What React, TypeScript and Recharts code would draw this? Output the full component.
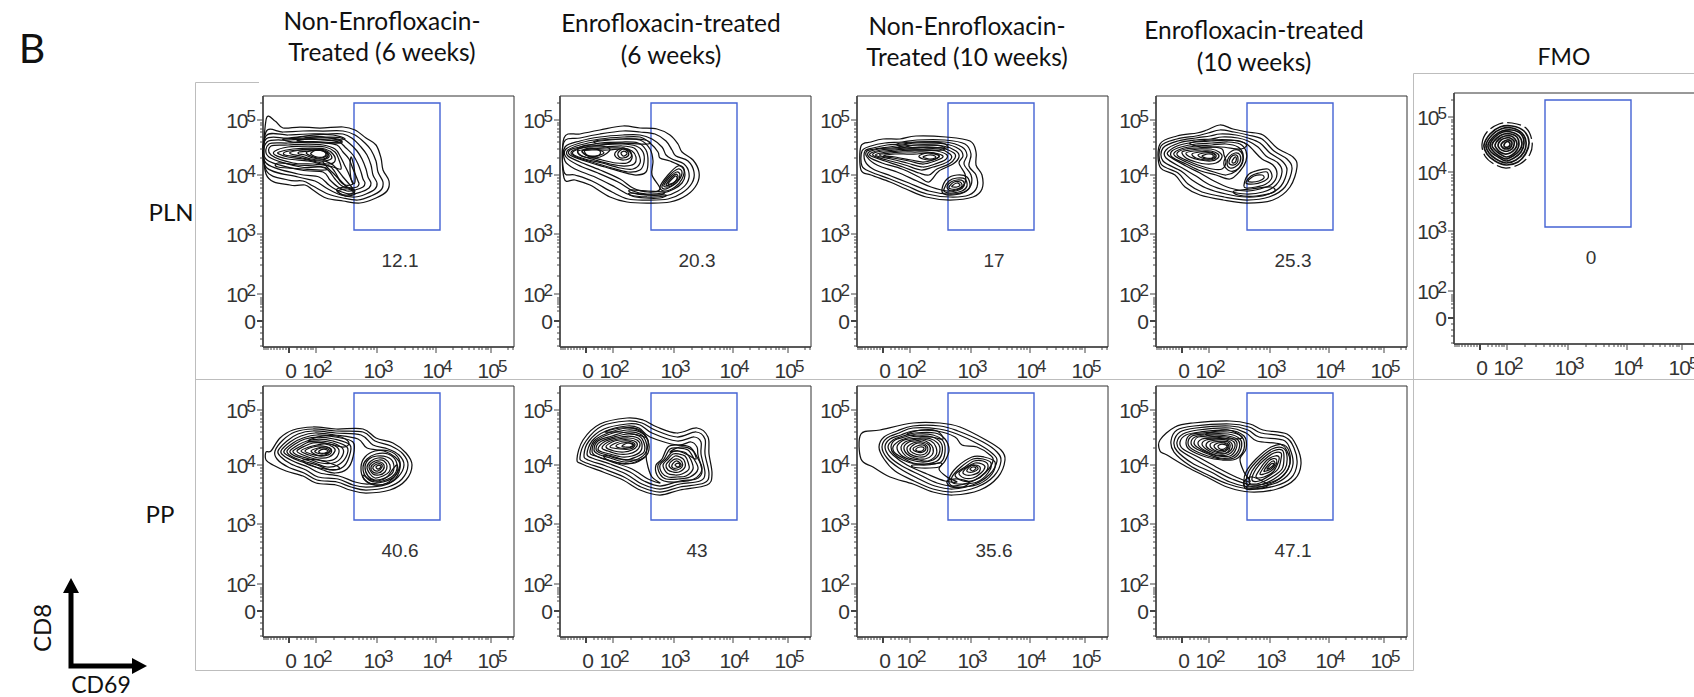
import { ReferenceArea, ReferenceDot, Scatter, ScatterChart, XAxis, YAxis } from "recharts";

// axis ticks, in display channels (0-251) of the biexponential flow axes
const xDecades = [53, 114, 173, 228];
const yDecades = [53, 113, 172, 227];
const xMinor = [1, 3, 5, 8, 11, 14, 17, 20, 23, 34, 38, 42, 45, 48, 50, 71, 82, 90, 96, 100, 104, 108, 111, 132, 142, 150, 155, 160, 164, 167, 170, 190, 199, 206, 211, 216, 219, 223, 225, 245, 250];
const yMinor = [1, 8, 14, 20, 36, 40, 43, 45, 47, 49, 71, 82, 89, 95, 100, 104, 107, 110, 131, 141, 149, 154, 159, 163, 166, 169, 189, 198, 205, 210, 215, 218, 222, 224, 244];
const zeroChannel = 26;
const gateX = [91, 177];
const gateY = [117, 244];

// contours, each a flat x,y,x,y list of channels
const plnUntreated6 = [
  [3,227,12,226,20,219,37,220,57,219,80,220,92,217,103,209,113,202,118,189,120,177,126,166,124,156,113,149,97,144,80,146,63,149,50,157,42,162,27,162,3,173],
  [3,215,20,215,40,216,60,216,80,216,92,212,102,204,108,197,113,186,115,175,120,165,118,157,108,151,95,147,80,149,65,153,50,161,40,166,25,167,3,177],
  [3,211,25,212,45,213,62,213,80,213,90,208,98,200,104,192,108,182,110,172,114,164,112,158,103,153,92,150,78,152,65,158,52,166,35,170,3,180],
  [3,208,25,209,45,211,62,210,78,209,86,204,94,196,99,188,103,178,105,170,108,164,106,159,98,155,88,153,76,156,66,162,56,170,35,173,3,184],
  [4,205,25,207,45,208,62,207,76,205,83,199,90,192,95,183,98,175,100,168,102,164,100,160,92,157,84,156,75,160,67,167,60,175,38,177,4,187],
  [6,203,25,204,45,205,62,204,74,202,80,195,86,188,90,178,93,171,95,166,96,163,94,160,86,159,79,161,72,168,66,176,58,180,38,180,6,190],
  [8,201,25,202,45,203,60,202,72,198,77,191,81,183,85,175,88,168,90,164,88,162,82,162,77,166,72,175,66,181,50,183,30,184,8,192],
  [12,196,25,200,45,201,62,200,72,195,76,187,78,178,70,180,58,183,45,186,25,188,12,192],
  [16,195,30,198,48,199,62,198,70,193,72,186,66,183,54,185,40,188,25,190,16,193],
  [22,195,35,197,50,198,62,197,68,192,68,188,60,186,48,187,35,190,22,192],
  [28,195,40,197,52,197,62,196,66,192,65,189,58,187,48,188,38,191,28,193],
  [36,195,46,196,56,197,63,195,65,191,60,188,50,189,42,192,36,193],
  [44,195,52,197,60,196,64,193,62,190,55,189,48,191,44,193],
  [48,194,54,197,60,196,63,193,60,190,54,190,49,192],
  [20,208,40,209,60,210,78,206,70,204,50,205,30,205],
  [60,186,70,182,80,170,90,158,84,160,72,172,64,180],
  [30,208,50,212,70,212,82,208,70,207,50,208],
  [34,206,55,209,75,208,78,204,60,205],
  [74,158,84,160,92,156,84,152,76,154],
  [75,156,85,158,92,153,82,151],
  [88,190,91,180,92,165,89,165,87,178],
  [15,184,35,182,60,180,62,177,40,178,15,180],
];
const plnTreated6 = [
  [4,209,20,213,40,217,63,221,80,219,97,218,110,212,118,203,122,195,133,187,139,175,137,163,127,152,110,145,87,144,67,145,50,150,30,162,15,167,4,169],
  [4,205,20,209,40,213,63,216,80,215,95,213,106,206,112,197,116,191,128,186,134,175,132,164,122,154,108,148,87,147,68,148,52,155,32,166,15,172,4,175],
  [5,200,20,206,40,210,63,212,80,212,92,208,102,200,106,192,112,188,124,183,129,174,127,164,118,156,105,151,87,150,70,152,55,160,35,170,15,178,5,186],
  [6,198,20,204,40,208,63,210,80,210,90,204,98,195,100,189,110,186,122,180,125,172,122,164,114,158,103,154,87,153,73,156,58,165,38,174,18,182,6,190],
  [8,197,20,202,40,206,63,208,80,207,90,198,93,186,92,172,100,158,88,155,73,159,60,168,40,177,20,185,8,191],
  [10,197,20,200,40,204,62,205,78,204,86,197,88,186,86,175,76,172,62,175,45,180,25,186,10,192],
  [12,196,25,200,42,202,62,203,76,201,83,195,84,185,80,177,68,175,52,179,32,185,14,191],
  [14,196,28,200,45,200,62,201,74,199,79,192,80,184,73,178,60,179,42,184,25,188,14,192],
  [18,196,30,198,47,199,63,199,72,196,76,190,74,183,64,181,50,183,35,187,22,191],
  [22,196,32,197,48,197,63,198,70,195,72,189,67,184,56,184,42,187,28,191],
  [55,194,62,199,70,196,71,190,64,187,57,189],
  [58,194,63,198,68,195,68,191,63,189,59,190],
  [61,194,64,196,67,194,66,192,63,191],
  [22,196,30,199,40,196,38,191,28,191],
  [100,160,108,172,118,181,124,178,122,168,115,160,105,156],
  [102,161,110,172,118,178,122,175,119,167,112,161,105,158],
  [104,162,111,171,117,175,120,172,117,165,111,161,106,160],
  [106,162,112,170,116,173,118,170,115,165,110,162],
  [108,163,113,169,116,171,117,168,113,164],
  [70,157,88,156,104,155,100,152,86,152,72,154],
  [35,206,60,208,85,207,88,203,60,204,40,203],
  [20,200,35,202,50,198,40,190,25,190,18,194],
  [25,197,36,198,44,194,35,191,27,192],
  [70,154,90,152,106,152,100,149,85,149,72,151],
];
const plnUntreated10 = [
  [4,201,14,205,26,208,43,208,59,211,89,210,113,206,119,195,119,182,125,172,125,158,116,150,93,147,69,150,49,158,33,165,14,172,4,177],
  [5,196,14,201,28,204,45,205,60,207,88,207,108,203,114,193,112,181,119,172,120,160,112,152,93,150,70,153,50,161,33,168,14,175,5,181],
  [8,196,16,199,30,202,46,203,60,205,88,205,105,200,110,192,107,183,114,172,114,162,107,155,92,153,72,156,52,164,34,171,16,178,8,186],
  [10,196,18,198,32,200,46,202,60,204,88,203,102,198,106,191,102,184,108,173,108,164,102,158,90,156,74,160,60,166,40,175,20,182,10,190],
  [12,195,22,198,34,199,48,200,60,202,86,201,99,196,102,190,96,183,82,176,72,165,62,170,45,178,25,184,12,190],
  [14,194,24,197,36,198,50,199,62,200,84,199,97,194,98,189,92,183,80,178,72,172,62,174,46,180,28,186,14,191],
  [17,194,26,196,38,197,52,198,64,198,82,198,93,193,94,188,86,183,76,180,64,177,48,182,30,187,17,191],
  [20,193,30,195,42,196,55,197,66,197,80,196,90,192,88,187,78,183,66,180,50,184,34,188,20,191],
  [24,193,34,194,46,195,58,195,70,195,82,193,86,190,78,186,66,183,52,186,36,189,24,191],
  [28,192,38,193,50,193,60,193,72,194,82,191,76,187,66,185,54,187,38,190,28,191],
  [62,191,70,194,80,193,82,190,74,187,66,188],
  [66,190,72,192,78,191,78,189,72,188],
  [85,158,90,168,100,172,110,170,113,161,108,155,96,152,87,153],
  [87,158,92,166,100,169,108,168,110,161,105,156,95,154,88,155],
  [90,160,94,165,100,167,106,166,107,161,102,157,94,156],
  [92,160,97,165,103,165,105,161,100,158,94,158],
  [95,161,100,164,103,162,100,160,96,160],
  [40,203,60,205,85,204,90,199,70,200,50,199],
  [42,200,60,202,84,201,86,197,65,197,48,197],
];
const plnTreated10 = [
  [4,203,21,211,41,214,51,217,64,222,77,218,91,215,107,212,121,199,137,190,141,180,134,160,117,147,91,144,67,147,44,152,29,160,19,172,4,180],
  [5,201,21,208,40,211,52,214,64,217,78,215,92,212,106,208,118,196,131,188,136,178,129,160,113,150,91,147,68,150,46,155,32,163,22,174,5,183],
  [7,199,22,206,40,209,54,211,64,213,80,212,92,209,104,204,114,194,126,186,131,177,125,161,110,152,90,150,70,153,50,159,36,167,25,176,7,186],
  [10,197,23,204,40,207,55,208,66,210,82,209,92,206,102,200,110,191,122,184,126,175,120,162,107,155,90,153,72,156,54,162,40,171,28,178,10,189],
  [13,196,24,202,40,205,55,206,70,207,84,206,92,202,98,196,106,188,117,182,121,173,116,163,104,158,90,156,74,159,58,166,44,174,30,181,13,191],
  [16,196,25,200,40,203,56,204,72,205,84,203,90,196,90,186,84,176,74,168,60,172,45,176,30,183,16,190],
  [19,195,28,199,40,201,56,202,70,203,82,200,87,193,86,184,80,176,70,172,58,175,42,180,30,185,19,191],
  [22,195,30,198,42,199,56,200,66,198,68,192,70,185,66,178,56,178,42,182,32,186,22,191],
  [26,195,34,197,44,198,55,198,63,195,66,190,60,184,50,183,40,185,30,189],
  [30,194,38,196,46,196,55,196,62,193,62,189,55,186,44,187,34,190],
  [36,193,44,195,54,195,60,192,58,188,50,187,40,189],
  [42,192,48,194,56,194,59,191,54,188,46,189],
  [46,191,52,193,57,192,56,189,50,189],
  [68,182,70,190,78,197,85,195,87,186,82,178,74,176],
  [71,183,73,190,79,194,84,192,84,185,79,180,74,179],
  [73,184,75,190,80,192,82,189,81,184,77,182],
  [76,185,78,189,80,190,80,186,78,184],
  [88,162,92,172,100,176,112,178,116,170,110,163,100,160,90,159],
  [90,164,95,171,103,174,111,175,112,169,106,165,98,163],
  [92,166,98,171,106,172,108,169,103,166,96,165],
  [34,204,55,207,75,207,90,203,85,198,65,200,45,200],
  [78,156,95,158,115,160,118,155,100,151,82,152],
];
const plnFmo = [
  [28,200,33,212,45,220,58,221,72,216,78,203,76,190,66,180,52,176,40,180,31,188],
  [30,199,36,210,46,217,58,218,70,213,75,202,72,191,64,182,52,179,41,183,33,190],
  [32,199,38,209,47,215,58,216,68,211,72,202,70,192,62,184,52,181,42,185,35,191],
  [34,199,40,208,48,213,58,214,67,210,70,201,67,192,60,186,52,183,44,187,37,192],
  [36,199,41,207,49,212,57,212,65,208,68,200,65,193,59,188,52,185,45,188,39,193],
  [38,199,43,206,50,210,57,210,63,207,65,200,63,194,58,189,52,187,46,190,41,194],
  [41,199,45,205,51,208,57,208,61,205,63,200,61,195,56,191,51,190,46,192,43,195],
  [44,199,47,204,52,206,56,206,60,203,60,199,58,195,54,193,50,193,46,195],
  [47,199,49,202,53,204,57,203,58,200,56,196,52,195,49,196],
  [50,199,52,202,55,202,56,199,54,197,51,197],
];
const ppUntreated6 = [
  [3,185,8,186,17,199,30,207,50,210,73,208,100,208,113,199,130,194,143,184,149,172,143,157,127,147,103,144,87,147,73,152,53,154,40,161,23,166,10,172,3,177],
  [12,186,20,197,32,205,50,208,73,206,100,205,112,196,128,191,140,183,145,172,139,158,125,150,103,147,88,150,74,155,54,157,41,164,25,170,14,178],
  [15,186,24,196,35,203,50,206,73,204,98,202,110,192,125,188,136,182,141,172,135,160,122,152,103,150,90,152,75,158,55,160,43,167,28,173,18,180],
  [18,186,27,195,38,201,52,204,72,202,95,198,104,189,121,186,132,180,137,172,131,160,120,155,104,153,92,155,76,161,57,164,45,170,32,175,21,181],
  [21,186,30,194,40,199,54,202,72,200,90,195,90,180,84,168,72,164,60,167,48,172,34,177,24,182],
  [24,186,32,193,42,198,55,200,71,198,87,192,86,180,80,170,68,167,54,172,40,176,28,181],
  [27,186,35,192,44,196,56,198,70,196,84,190,83,180,75,172,64,170,52,174,38,179,30,182],
  [30,186,38,191,46,195,58,196,70,194,80,188,78,179,70,174,58,174,46,178,34,182],
  [34,186,42,191,50,194,60,194,70,192,76,187,73,179,64,176,52,178,40,182],
  [38,186,46,190,54,192,62,193,70,190,72,186,66,180,56,179,46,182],
  [42,186,50,190,60,191,68,188,67,183,58,181,48,183],
  [48,186,55,189,63,190,68,187,62,182,54,182],
  [52,186,58,189,65,188,66,185,60,183,54,184],
  [56,186,61,188,65,186,62,184,57,184],
  [98,170,102,180,112,186,126,186,136,178,136,165,128,155,112,152,101,158],
  [100,170,104,178,113,183,125,183,133,176,133,165,125,158,112,155,103,160],
  [102,170,106,178,114,181,124,180,130,175,130,165,122,159,112,157,105,161],
  [104,170,108,176,115,179,122,178,127,172,126,165,120,161,112,159,107,163],
  [106,170,110,175,116,177,121,176,124,171,122,165,116,162,110,163],
  [108,170,112,174,117,175,121,172,120,167,115,164,110,165],
  [110,170,114,173,118,173,119,170,115,166,111,167],
  [113,170,116,172,118,170,115,168],
  [45,196,60,201,78,200,86,194,80,190,62,194],
  [40,177,55,177,72,172,76,168,62,168,46,172],
  [100,162,106,158,115,156,124,160,130,168,134,172,134,164,124,154,112,152,102,157],
];
const ppTreated6 = [
  [17,178,23,197,40,213,67,219,83,217,97,210,117,204,137,209,148,200,149,183,152,163,147,152,120,147,100,142,80,147,63,157,43,165,22,173],
  [20,180,26,196,42,211,67,216,82,214,95,207,117,200,136,205,145,198,145,183,149,163,144,154,120,150,100,145,81,150,64,160,44,168,24,175],
  [24,182,29,196,44,208,67,213,80,212,92,204,117,196,134,200,141,195,141,183,145,164,140,156,120,153,100,148,82,153,66,163,46,171,28,177],
  [27,183,32,196,46,206,67,211,79,209,90,200,117,192,131,195,137,190,138,182,142,165,136,158,120,156,100,151,84,156,70,165,50,173,32,179],
  [30,184,34,196,48,204,67,209,78,207,88,197,86,182,88,170,92,160,100,154,88,158,72,168,52,175,36,181],
  [32,186,36,196,50,203,67,207,80,205,88,196,88,184,80,177,65,173,48,177,36,181],
  [34,187,38,196,52,201,67,205,80,203,86,195,86,185,78,178,65,175,50,179,38,183],
  [36,188,40,195,54,200,68,203,79,201,84,194,84,185,76,180,65,177,52,181,40,184],
  [38,188,44,195,56,199,68,201,78,199,82,193,80,185,72,181,62,180,50,183,42,185],
  [42,189,48,195,58,198,69,199,77,197,80,192,76,186,68,183,58,183,48,186],
  [46,190,52,195,60,197,70,197,76,195,77,191,72,187,64,185,54,186],
  [50,190,56,194,64,196,72,195,75,192,70,188,60,188],
  [56,191,62,194,70,194,74,192,68,189,60,189],
  [62,191,68,194,73,192,70,190,65,190],
  [96,172,102,178,108,190,118,192,130,190,137,180,142,168,134,158,118,155,104,156,97,162],
  [98,172,104,178,110,188,118,189,128,187,134,178,138,168,130,160,118,158,106,158,100,163],
  [100,172,106,178,112,185,118,186,126,184,131,177,133,168,126,161,117,160,108,160,102,164],
  [103,172,108,178,113,183,119,183,125,181,128,175,129,168,122,163,115,162,107,164],
  [106,172,110,177,115,181,120,180,124,177,125,170,119,165,113,165,108,167],
  [109,172,113,177,118,178,122,175,122,170,117,167,112,168],
  [112,172,116,176,120,174,121,171,117,169,113,169],
  [115,172,118,174,120,172,118,170],
  [45,205,60,209,78,208,86,200,78,202,60,205],
  [45,182,60,178,78,177,85,180,75,174,60,174,46,178],
  [110,185,120,190,132,187,136,178,128,182,118,186],
];
const ppUntreated10 = [
  [4,203,23,207,56,214,83,214,103,210,129,197,144,187,148,177,141,160,123,147,96,142,76,145,56,153,33,160,16,170,4,178],
  [22,190,27,200,40,206,56,211,83,211,101,206,126,195,140,185,144,176,137,161,120,150,96,145,76,148,57,156,38,166,27,178],
  [25,190,30,199,42,204,56,209,82,208,100,203,123,192,136,183,140,176,133,163,118,153,96,148,78,151,60,159,42,169,30,179],
  [28,190,33,198,44,202,56,206,80,206,98,200,105,192,120,190,133,182,136,176,129,165,116,156,96,151,80,154,63,162,45,171,33,180],
  [31,190,36,197,46,201,58,204,78,204,88,198,92,187,88,176,82,168,90,160,100,155,88,156,70,163,50,172,36,182],
  [34,190,38,197,48,200,60,203,76,202,86,196,88,185,84,175,72,173,58,173,46,177,37,183],
  [36,190,42,196,50,199,62,201,75,200,84,194,85,184,80,176,68,173,56,174,46,179,38,184],
  [40,190,45,196,52,198,62,199,74,198,82,192,82,183,76,177,66,175,54,177,44,182],
  [44,190,48,195,55,197,64,198,74,196,79,190,79,182,71,176,62,177,52,179,46,184],
  [47,190,52,195,58,196,65,197,72,194,76,189,75,182,68,178,58,179,50,183],
  [50,189,54,193,60,195,66,195,72,192,73,186,69,181,62,180,53,183],
  [53,188,58,193,64,194,70,191,70,185,64,182,56,184],
  [56,188,60,191,66,192,69,189,66,185,60,185],
  [59,188,63,190,67,189,65,186,60,186],
  [92,158,100,170,115,180,127,180,138,175,135,163,122,153,106,150,95,151],
  [95,160,104,170,116,178,126,178,134,174,131,164,120,155,106,153,96,154],
  [98,162,108,170,117,176,126,176,131,172,128,164,118,157,106,156],
  [102,164,110,170,118,174,125,173,128,170,124,164,116,159,107,159],
  [106,165,112,171,118,172,123,170,122,165,115,162,109,162],
  [110,167,114,171,119,171,121,168,116,165,111,165],
  [113,168,116,170,119,169,116,166],
  [50,203,64,207,80,206,86,198,75,200,60,201],
  [56,172,70,172,84,174,82,170,68,169,56,170],
  [90,156,100,158,112,155,106,150,94,150],
];
const ppTreated10 = [
  [4,197,19,210,37,214,74,216,94,213,107,207,131,203,141,190,145,173,139,158,121,148,94,145,71,150,51,160,31,170,11,182,4,186],
  [15,196,21,207,38,211,74,213,93,210,105,204,129,200,138,189,141,173,135,159,119,151,94,148,72,153,52,162,33,172,18,185],
  [18,195,24,205,40,209,74,211,92,207,103,200,127,197,134,188,137,173,131,161,117,153,95,150,74,155,55,165,36,174,21,186],
  [21,195,27,203,42,207,74,209,90,204,101,196,124,193,131,186,134,174,128,162,116,155,96,152,76,158,58,167,40,177,24,187],
  [24,195,30,202,44,205,72,207,88,201,90,188,84,178,88,165,94,155,80,160,62,169,44,179,27,188],
  [30,194,34,202,46,204,72,205,86,200,88,188,80,178,66,177,50,180,34,187],
  [32,194,36,201,48,203,72,203,84,198,85,188,78,179,66,178,52,181,36,188],
  [35,194,39,200,50,202,72,201,82,197,83,188,76,180,64,179,52,183,39,189],
  [38,194,42,200,52,200,70,200,80,196,80,188,74,181,62,181,50,185,41,190],
  [42,193,46,198,56,199,70,198,78,195,78,188,71,182,60,182,48,187],
  [46,193,50,197,60,198,70,197,76,193,75,187,68,183,58,184,50,188],
  [50,192,54,196,62,196,72,195,74,190,70,184,60,185,53,188],
  [54,192,58,195,66,195,72,193,72,188,66,185,58,187],
  [58,191,62,194,68,194,72,191,69,187,62,187],
  [62,191,66,193,71,191,68,188,64,188],
  [88,153,90,165,100,178,115,190,128,192,134,182,132,168,120,156,104,150,92,149],
  [90,155,93,166,103,178,116,188,127,189,131,181,129,168,118,158,104,152,93,151],
  [93,156,96,166,105,177,117,186,126,187,128,180,126,168,116,160,104,154,95,153],
  [96,157,100,168,108,177,118,184,125,184,125,178,122,168,113,161,103,156],
  [100,160,104,168,111,177,119,181,123,180,122,174,117,165,108,160],
  [104,163,108,170,114,177,120,178,120,172,115,166,108,163],
  [108,166,112,172,117,176,119,173,115,168,110,166],
  [111,168,115,173,118,173,114,169],
  [50,203,72,207,86,200,78,198,60,200],
  [88,155,96,160,112,152,100,148,90,148],
];

const gatePercents = ["12.1", "20.3", "17", "25.3", "0", "40.6", "43", "35.6", "47.1"];
const panelContours = [plnUntreated6, plnTreated6, plnUntreated10, plnTreated10, plnFmo, ppUntreated6, ppTreated6, ppUntreated10, ppTreated10];
const panelLeft = [263, 560, 857, 1156, 1454, 263, 560, 857, 1156];
const panelTop = [96, 96, 96, 96, 93, 386, 386, 386, 386];

const titles = [
  { x: 382, y: [22, 53], lines: ["Non-Enrofloxacin-", "Treated (6 weeks)"] },
  { x: 671, y: [24, 56], lines: ["Enrofloxacin-treated", "(6 weeks)"] },
  { x: 967, y: [27, 58], lines: ["Non-Enrofloxacin-", "Treated (10 weeks)"] },
  { x: 1254, y: [31, 63], lines: ["Enrofloxacin-treated", "(10 weeks)"] },
];

const labelFont = "'Liberation Sans', Arial, sans-serif";
const captionFont = "Lato, 'Open Sans', sans-serif";
const axisGrey = "#444";

function toPoints(contour: number[]) {
  const points = [];
  for (let i = 0; i < contour.length; i += 2) points.push({ x: contour[i], y: contour[i + 1] });
  return points;
}

// closed Catmull-Rom through the read points; recharts' Curve takes a d3-style factory
function smoothClosed(context: any) {
  let pts: number[][] = [];
  return {
    areaStart() {},
    areaEnd() {},
    lineStart() {
      pts = [];
    },
    point(x: number, y: number) {
      pts.push([x, y]);
    },
    lineEnd() {
      const n = pts.length;
      if (!n) return;
      context.moveTo(pts[0][0], pts[0][1]);
      for (let i = 0; i < n; i++) {
        const p0 = pts[(i - 1 + n) % n];
        const p1 = pts[i];
        const p2 = pts[(i + 1) % n];
        const p3 = pts[(i + 2) % n];
        context.bezierCurveTo(
          p1[0] + (p2[0] - p0[0]) / 6,
          p1[1] + (p2[1] - p0[1]) / 6,
          p2[0] - (p3[0] - p1[0]) / 6,
          p2[1] - (p3[1] - p1[1]) / 6,
          p2[0],
          p2[1]
        );
      }
      context.closePath();
    },
  };
}

const noMarker = () => <g />;

function DecadeLabel({ x, y, exp, anchor }: any) {
  return (
    <text x={x} y={y} textAnchor={anchor} fontFamily={labelFont} fontSize={21} letterSpacing={-1} fill="#333">
      10
      <tspan dx={-1} dy={-6} fontSize={17}>{exp}</tspan>
    </text>
  );
}

function XTick({ x, y, payload }: any) {
  const v = payload.value;
  const decade = xDecades.indexOf(v);
  const isZero = v === zeroChannel;
  return (
    <g>
      <line x1={x} x2={x} y1={y} y2={y + (decade >= 0 || isZero ? 6 : 3)} stroke={axisGrey} strokeWidth={isZero ? 2 : 1} />
      {isZero && <text x={x + 2} y={y + 31} textAnchor="middle" fontFamily={labelFont} fontSize={21} fill="#333">0</text>}
      {decade >= 0 && <DecadeLabel x={x + 1} y={y + 31} exp={decade + 2} anchor="middle" />}
    </g>
  );
}

function YTick({ x, y, payload }: any) {
  const v = payload.value;
  const decade = yDecades.indexOf(v);
  const isZero = v === zeroChannel;
  return (
    <g>
      <line x1={x - (decade >= 0 || isZero ? 6 : 3)} x2={x} y1={y} y2={y} stroke={axisGrey} strokeWidth={isZero ? 2 : 1} />
      {isZero && <text x={x - 7} y={y + 8} textAnchor="end" fontFamily={labelFont} fontSize={21} fill="#333">0</text>}
      {decade >= 0 && <DecadeLabel x={x - 8} y={y + 8} exp={decade + 2} anchor="end" />}
    </g>
  );
}

function FlowPlot({ index }: { index: number }) {
  const contours = panelContours[index];
  const isFmo = index === 4;
  return (
    <ScatterChart
      width={251 + 50 + 6}
      height={251 + 42 + 6}
      margin={{ top: 6, right: 6, bottom: 0, left: 0 }}
      style={{ position: "absolute", left: panelLeft[index] - 50, top: panelTop[index] - 6 }}
    >
      <XAxis
        type="number"
        dataKey="x"
        domain={[0, 251]}
        ticks={[...xMinor, zeroChannel, ...xDecades].sort((a, b) => a - b)}
        interval={0}
        height={42}
        tick={XTick}
        tickLine={false}
        tickSize={0}
        tickMargin={0}
        axisLine={{ stroke: axisGrey, strokeWidth: 1.5 }}
      />
      <YAxis
        type="number"
        dataKey="y"
        domain={[0, 251]}
        ticks={[...yMinor, zeroChannel, ...yDecades].sort((a, b) => a - b)}
        interval={0}
        width={50}
        tick={YTick}
        tickLine={false}
        tickSize={0}
        tickMargin={0}
        axisLine={{ stroke: axisGrey, strokeWidth: 1.5 }}
      />
      <ReferenceArea x1={0} x2={251} y1={0} y2={251} fill="none" stroke="#333" strokeWidth={1} />
      {contours.map((contour, i) => (
        <Scatter
          key={i}
          data={toPoints(contour)}
          line={{
            stroke: "#111",
            strokeWidth: isFmo && i > 0 ? 1.7 : 1.25,
            strokeDasharray: isFmo && i === 0 ? "14 4" : undefined,
          }}
          lineJointType={smoothClosed as any}
          shape={noMarker}
          isAnimationActive={false}
        />
      ))}
      <ReferenceArea x1={gateX[0]} x2={gateX[1]} y1={gateY[0]} y2={gateY[1]} fill="none" stroke="#4463d4" strokeWidth={1.4} />
      <ReferenceDot
        x={137}
        y={87}
        r={0}
        stroke="none"
        label={{ value: gatePercents[index], fontFamily: labelFont, fontSize: 19, fill: "#333" }}
      />
    </ScatterChart>
  );
}

export default function App() {
  return (
    <div style={{ position: "absolute", left: 0, top: 0, width: 1694, height: 697, overflow: "hidden", background: "#fff" }}>
      <svg width={1694} height={697} style={{ position: "absolute", left: 0, top: 0 }}>
        {/* grey frames left over from the pasted plots */}
        <g stroke="#bdbdbd" strokeWidth={1} fill="none">
          <path d="M259 82.5H195.5V670.5H1413.5V379" />
          <path d="M195 379.5H1694" />
          <path d="M1413.5 379V73.5H1694" />
        </g>
        <g fontFamily={captionFont} fill="#111" textAnchor="middle" fontSize={24.5}>
          {titles.map((t) =>
            t.lines.map((line, i) => (
              <text key={line + t.x} x={t.x} y={t.y[i] + 8}>{line}</text>
            ))
          )}
          <text x={1564} y={65} fontSize={23}>FMO</text>
          <text x={171} y={221} fontSize={24}>PLN</text>
          <text x={160} y={523} fontSize={24}>PP</text>
          <text x={32} y={63} fontSize={41}>B</text>
          <text x={101} y={693} fontSize={23}>CD69</text>
          <text x={51} y={628} fontSize={24} transform="rotate(-90 51 628)">CD8</text>
        </g>
        <path d="M71 668V590M68.500 666H134" stroke="#000" strokeWidth={5} fill="none" />
        <path d="M71 578L63 593H79Z M147 666L132 658V674Z" fill="#000" />
      </svg>
      {panelLeft.map((_, i) => (
        <FlowPlot key={i} index={i} />
      ))}
    </div>
  );
}
